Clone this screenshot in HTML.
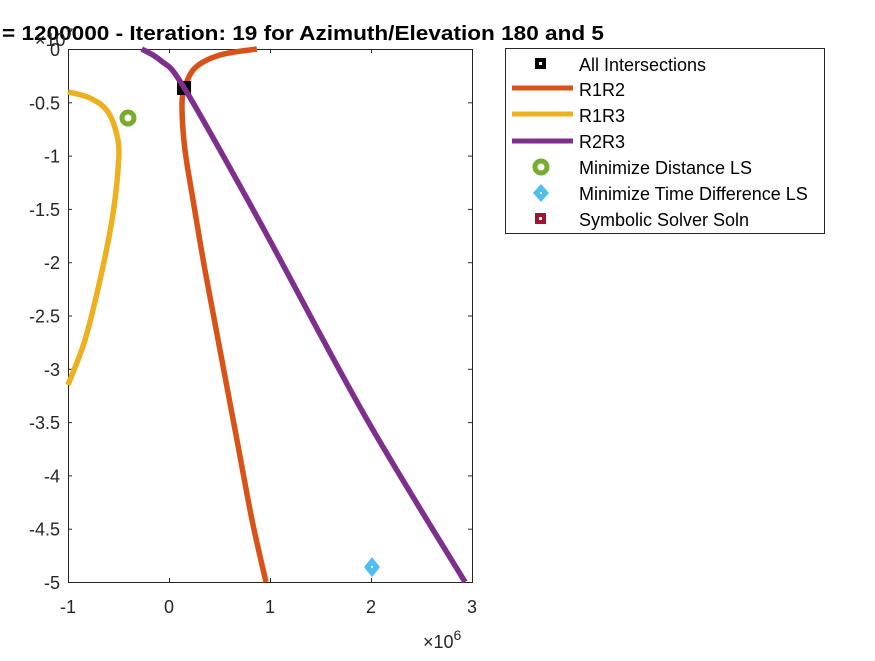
<!DOCTYPE html>
<html><head><meta charset="utf-8"><style>
body{margin:0;background:#fff;}
svg text{font-family:"Liberation Sans",Arial,sans-serif;}
</style></head><body>
<svg id="chart" width="875" height="656" xmlns="http://www.w3.org/2000/svg">
<rect width="875" height="656" fill="#fff"/>
<g id="axes"></g>
<g id="series"></g>
<text x="2" y="40" font-size="20" font-weight="bold" fill="#000" textLength="602" lengthAdjust="spacingAndGlyphs">= 1200000 - Iteration: 19 for Azimuth/Elevation 180 and 5</text>
<text x="35" y="46" font-size="18" fill="#262626">×10<tspan dy="-8" font-size="14">7</tspan></text>
<text x="423" y="648" font-size="18" fill="#262626">×10<tspan dy="-8" font-size="14">6</tspan></text>
<g>
<rect x="505.5" y="48.5" width="319" height="185" fill="#fff" stroke="#262626" stroke-width="1"/>
<rect x="535" y="58" width="11" height="11" fill="#000"/><rect x="539" y="62" width="3" height="3" fill="#fff"/>
<text x="579" y="71" font-size="18" fill="#000">All Intersections</text>
<line x1="512" y1="88" x2="573" y2="88" stroke="#D95319" stroke-width="5"/>
<text x="579" y="96" font-size="18" fill="#000">R1R2</text>
<line x1="512" y1="114" x2="573" y2="114" stroke="#EDB120" stroke-width="5"/>
<text x="579" y="122" font-size="18" fill="#000">R1R3</text>
<line x1="512" y1="141" x2="573" y2="141" stroke="#7E2F8E" stroke-width="5"/>
<text x="579" y="148" font-size="18" fill="#000">R2R3</text>
<circle cx="541" cy="167" r="6" fill="none" stroke="#77AC30" stroke-width="5"/>
<text x="579" y="174" font-size="18" fill="#000">Minimize Distance LS</text>
<polygon points="541,184 549,193 541,202 533,193" fill="#4DBEEE"/><rect x="540" y="192" width="2" height="2" fill="#fff"/>
<text x="579" y="200" font-size="18" fill="#000">Minimize Time Difference LS</text>
<rect x="535" y="213" width="11" height="11" fill="#A2142F"/><rect x="539" y="217" width="3" height="3" fill="#fff"/>
<text x="579" y="226" font-size="18" fill="#000">Symbolic Solver Soln</text>
</g>
</svg>
<script>
const xTicks=[-1,0,1,2,3];
const yTicks=[0,-0.5,-1,-1.5,-2,-2.5,-3,-3.5,-4,-4.5,-5];
const r1r2X=[0.871,0.505,0.257,0.149,0.129,0.158,0.238,0.356,0.505,0.673,0.822,0.960];
const r1r2Y=[0,-0.056,-0.178,-0.385,-0.572,-0.947,-1.417,-2.073,-2.824,-3.668,-4.418,-5.0];
const r1r3X=[-1,-0.782,-0.604,-0.505,-0.505,-0.564,-0.683,-0.832,-1.0];
const r1r3Y=[-0.403,-0.46,-0.591,-0.854,-1.135,-1.604,-2.167,-2.73,-3.152];
const r2r3X=[-0.270,-0.08,0.145,0.875,1.938,2.931];
const r2r3Y=[0,-0.11,-0.356,-1.580,-3.439,-5.0];
const intersectPt=[0.149,-0.366];
const distLsPt=[-0.406,-0.647];
const timeLsPt=[2.01,-4.86];
const X0=68,X1=472,Y0=49,Y1=582;
const sx=v=>X0+(v+1)/4*(X1-X0);
const sy=v=>Y0+(-v)/5*(Y1-Y0);
const NS="http://www.w3.org/2000/svg";
function mk(tag,attrs,parent){const e=document.createElementNS(NS,tag);for(const k in attrs)e.setAttribute(k,attrs[k]);parent.appendChild(e);return e;}
const ax=document.getElementById('axes'),se=document.getElementById('series');
const box=mk('rect',{x:X0+0.5,y:Y0+0.5,width:X1-X0,height:Y1-Y0,fill:'#fff',stroke:'#262626','stroke-width':1},ax);


xTicks.forEach(t=>{const x=sx(t)+0.5;
mk('line',{x1:x,y1:Y1,x2:x,y2:Y1-4,stroke:'#262626'},ax);
mk('line',{x1:x,y1:Y0,x2:x,y2:Y0+4,stroke:'#262626'},ax);
const tx=mk('text',{x:sx(t),y:Y1+31,'font-size':18,fill:'#262626','text-anchor':'middle'},ax);tx.textContent=t;

});
yTicks.forEach(t=>{const y=sy(t)+0.5;
mk('line',{x1:X0,y1:y,x2:X0+4,y2:y,stroke:'#262626'},ax);
mk('line',{x1:X1,y1:y,x2:X1-4,y2:y,stroke:'#262626'},ax);
const tx=mk('text',{x:X0-8,y:sy(t)+7,'font-size':18,fill:'#262626','text-anchor':'end'},ax);tx.textContent=t;

});
function line(xs,ys,c,name){
const P=xs.map((v,i)=>[sx(v),sy(ys[i])]);
let d='M'+P[0][0]+','+P[0][1];
for(let i=0;i<P.length-1;i++){const p0=P[Math.max(i-1,0)],p1=P[i],p2=P[i+1],p3=P[Math.min(i+2,P.length-1)];
d+=`C${p1[0]+(p2[0]-p0[0])/6},${p1[1]+(p2[1]-p0[1])/6} ${p2[0]-(p3[0]-p1[0])/6},${p2[1]-(p3[1]-p1[1])/6} ${p2[0]},${p2[1]}`;}
const p=mk('path',{d:d,fill:'none',stroke:c,'stroke-width':5.5,'stroke-linejoin':'round'},se);

}
line(r1r3X,r1r3Y,'#EDB120','r1r3-curve');
line(r1r2X,r1r2Y,'#D95319','r1r2-curve');
const sq=mk('rect',{x:sx(intersectPt[0])-7,y:sy(intersectPt[1])-7,width:14,height:14,fill:'#000'},se);


line(r2r3X,r2r3Y,'#7E2F8E','r2r3-curve');
const c=mk('circle',{cx:sx(distLsPt[0]),cy:sy(distLsPt[1]),r:6,fill:'none',stroke:'#77AC30','stroke-width':5},se);


const dx=sx(timeLsPt[0]),dy=sy(timeLsPt[1]);
const dm=mk('polygon',{points:`${dx},${dy-10} ${dx+8},${dy} ${dx},${dy+10} ${dx-8},${dy}`,fill:'#4DBEEE'},se);


mk('rect',{x:dx-1,y:dy-1,width:2,height:2,fill:'#fff'},se);
</script>
</body></html>
